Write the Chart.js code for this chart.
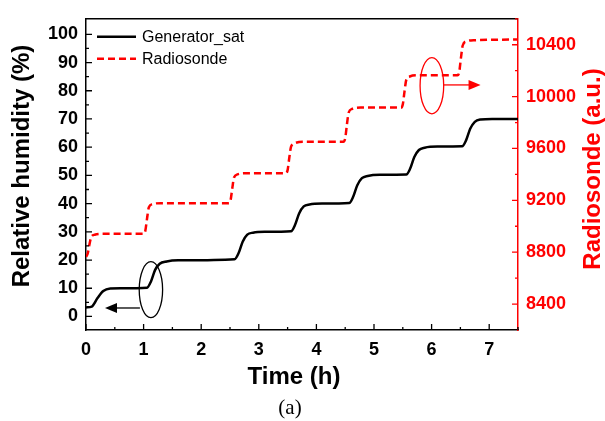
<!DOCTYPE html>
<html>
<head>
<meta charset="utf-8">
<script src="https://cdn.jsdelivr.net/npm/chart.js@4.4.1/dist/chart.umd.min.js"></script>
<style>
  html, body { margin: 0; padding: 0; background: #fff; }
  #wrap { width: 605px; height: 421px; position: relative; }
</style>
</head>
<body>
<div id="wrap"><canvas id="chart"></canvas></div>
<script>
// Generator_sat (left axis, %)
const genTime = [0, 0.1, 0.2, 0.3, 0.42, 0.6, 1.06, 1.13, 1.2, 1.28, 1.4, 1.6,
  2.58, 2.65, 2.72, 2.8, 2.9, 3.1, 3.56, 3.63, 3.7, 3.78, 3.88, 4.1,
  4.57, 4.64, 4.71, 4.79, 4.89, 5.1, 5.56, 5.63, 5.7, 5.78, 5.88, 6.1,
  6.53, 6.6, 6.67, 6.75, 6.85, 7.05, 7.5];
const genRH = [3.2, 3.5, 6.5, 9.0, 9.9, 10.0, 10.2, 12.5, 16.5, 18.7, 19.5, 19.9,
  20.3, 22.5, 26.5, 29.0, 29.7, 30.0, 30.2, 32.5, 36.5, 39.0, 39.7, 40.0,
  40.2, 42.5, 46.5, 49.0, 49.8, 50.2, 50.3, 52.5, 56.5, 59.0, 59.8, 60.2,
  60.3, 62.5, 66.5, 69.0, 69.8, 70.0, 70.0];

// Radiosonde (right axis, a.u.)
const radioTime = [0, 0.03, 0.06, 0.09, 0.15, 0.3, 1.0, 1.03, 1.06, 1.09, 1.15, 1.3,
  2.48, 2.51, 2.54, 2.57, 2.63, 2.78, 3.47, 3.5, 3.53, 3.56, 3.62, 3.77,
  4.47, 4.5, 4.53, 4.56, 4.62, 4.77, 5.47, 5.5, 5.53, 5.56, 5.62, 5.77,
  6.45, 6.48, 6.51, 6.54, 6.6, 6.75, 7.5];
const radioVal = [8764, 8790, 8860, 8915, 8935, 8942, 8942, 8966, 9060, 9145, 9170, 9178,
  9178, 9201, 9294, 9376, 9400, 9409, 9409, 9433, 9530, 9614, 9640, 9652,
  9652, 9678, 9785, 9877, 9905, 9915, 9915, 9940, 10040, 10128, 10155, 10164,
  10164, 10191, 10300, 10394, 10425, 10435, 10440];

const timeTicks = [0, 1, 2, 3, 4, 5, 6, 7];
const rhTicks = [0, 10, 20, 30, 40, 50, 60, 70, 80, 90, 100];
const radioTicks = [8400, 8800, 9200, 9600, 10000, 10400];

const FONT = '"Liberation Sans", Arial, Helvetica, sans-serif';
const RED = '#ff0000';

const toPoints = (xs, ys) => xs.map((x, i) => ({ x, y: ys[i] }));
const fixTicks = (vals) => (scale) => { scale.ticks = vals.map(v => ({ value: v })); };
const plain = (v) => String(v);

// ellipses + arrows pointing to the matching axis (data units)
const marks = [
  { axis: 'y', cx: 1.127, cy: 9.5, rx: 0.203, ry: 9.9, from: [0.936, 3.0], to: [0.33, 3.0], color: '#000' },
  { axis: 'y1', cx: 6.005, cy: 10084, rx: 0.205, ry: 217, from: [6.21, 10090], to: [6.85, 10090], color: RED }
];

const decor = {
  id: 'decor',
  afterDraw(chart) {
    const { ctx, chartArea: a, scales } = chart;
    const sx = scales.x, sy = scales.y, sr = scales.y1;
    ctx.save();

    // top frame
    ctx.strokeStyle = '#000';
    ctx.lineWidth = 1.5;
    ctx.beginPath();
    ctx.moveTo(a.left, a.top);
    ctx.lineTo(a.right, a.top);
    ctx.stroke();

    // inward tick marks
    ctx.lineWidth = 1.3;
    ctx.beginPath();
    for (let v = 0; v <= 7.5; v += 0.5) {
      const px = sx.getPixelForValue(v);
      const len = Number.isInteger(v) ? 6 : 3;
      ctx.moveTo(px, a.bottom);
      ctx.lineTo(px, a.bottom - len);
    }
    for (let v = 0; v <= 100; v += 5) {
      const py = sy.getPixelForValue(v);
      const len = v % 10 === 0 ? 6 : 3;
      ctx.moveTo(a.left, py);
      ctx.lineTo(a.left + len, py);
    }
    ctx.stroke();
    ctx.strokeStyle = RED;
    ctx.beginPath();
    for (let v = 8400; v <= 10600; v += 200) {
      const py = sr.getPixelForValue(v);
      const len = v % 400 === 0 ? 6 : 3;
      ctx.moveTo(a.right, py);
      ctx.lineTo(a.right - len, py);
    }
    ctx.stroke();

    // ellipses and arrows
    marks.forEach(m => {
      const ys = scales[m.axis];
      const cx = sx.getPixelForValue(m.cx), cy = ys.getPixelForValue(m.cy);
      const rx = Math.abs(sx.getPixelForValue(m.cx + m.rx) - cx);
      const ry = Math.abs(ys.getPixelForValue(m.cy + m.ry) - cy);
      ctx.strokeStyle = m.color;
      ctx.fillStyle = m.color;
      ctx.lineWidth = 1.3;
      ctx.setLineDash([]);
      ctx.beginPath();
      ctx.ellipse(cx, cy, rx, ry, 0, 0, Math.PI * 2);
      ctx.stroke();
      const x0 = sx.getPixelForValue(m.from[0]), y0 = ys.getPixelForValue(m.from[1]);
      const x1 = sx.getPixelForValue(m.to[0]), y1 = ys.getPixelForValue(m.to[1]);
      const dir = Math.sign(x1 - x0);
      ctx.beginPath();
      ctx.moveTo(x0, y0);
      ctx.lineTo(x1 - dir * 10, y1);
      ctx.stroke();
      ctx.beginPath();
      ctx.moveTo(x1, y1);
      ctx.lineTo(x1 - dir * 12, y1 - 5);
      ctx.lineTo(x1 - dir * 12, y1 + 5);
      ctx.closePath();
      ctx.fill();
    });

    // legend
    ctx.font = '16px ' + FONT;
    ctx.textBaseline = 'middle';
    ctx.textAlign = 'left';
    chart.data.datasets.forEach((ds, i) => {
      const y = a.top + 18 + i * 22;
      ctx.strokeStyle = ds.borderColor;
      ctx.lineWidth = ds.borderWidth;
      ctx.setLineDash(ds.borderDash || []);
      ctx.beginPath();
      ctx.moveTo(a.left + 11, y);
      ctx.lineTo(a.left + 50, y);
      ctx.stroke();
      ctx.setLineDash([]);
      ctx.fillStyle = '#000';
      ctx.fillText(ds.label, a.left + 56, y + 1);
    });

    // axis titles
    ctx.font = 'bold 24px ' + FONT;
    ctx.textAlign = 'center';
    ctx.fillStyle = '#000';
    ctx.fillText('Time (h)', 294, 377);
    ctx.save();
    ctx.translate(22, 166);
    ctx.rotate(-Math.PI / 2);
    ctx.fillText('Relative humidity (%)', 0, 0);
    ctx.restore();
    ctx.save();
    ctx.fillStyle = RED;
    ctx.translate(593, 169);
    ctx.rotate(-Math.PI / 2);
    ctx.fillText('Radiosonde (a.u.)', 0, 0);
    ctx.restore();

    // caption
    ctx.font = '21px "Liberation Serif", "Times New Roman", serif';
    ctx.fillStyle = '#000';
    ctx.fillText('(a)', 290, 408);
    ctx.restore();
  }
};

new Chart(document.getElementById('chart'), {
  type: 'line',
  data: {
    datasets: [
      { label: 'Generator_sat', data: toPoints(genTime, genRH), yAxisID: 'y',
        borderColor: '#000', borderWidth: 2.5, pointRadius: 0, cubicInterpolationMode: 'monotone', fill: false },
      { label: 'Radiosonde', data: toPoints(radioTime, radioVal), yAxisID: 'y1',
        borderColor: RED, borderWidth: 2.5, borderDash: [7, 4], pointRadius: 0, cubicInterpolationMode: 'monotone', fill: false }
    ]
  },
  options: {
    responsive: true,
    maintainAspectRatio: false,
    animation: false,
    layout: { padding: { top: 8, left: 0, right: 0, bottom: 0 } },
    plugins: { legend: { display: false }, tooltip: { enabled: false } },
    scales: {
      x: {
        type: 'linear', min: 0, max: 7.5,
        afterBuildTicks: fixTicks(timeTicks),
        afterFit: (s) => { s.height = 91; },
        grid: { display: false, drawTicks: false },
        border: { display: true, color: '#000', width: 1.5 },
        ticks: { color: '#000', padding: 9, maxRotation: 0, callback: plain, font: { family: FONT, size: 18, weight: 'bold' } }
      },
      y: {
        position: 'left', min: -4.8, max: 105.5,
        afterBuildTicks: fixTicks(rhTicks),
        afterFit: (s) => { s.width = 86; },
        grid: { display: false, drawTicks: false },
        border: { display: true, color: '#000', width: 1.5 },
        ticks: { color: '#000', padding: 8, callback: plain, font: { family: FONT, size: 18, weight: 'bold' } }
      },
      y1: {
        position: 'right', min: 8200, max: 10600,
        afterBuildTicks: fixTicks(radioTicks),
        afterFit: (s) => { s.width = 87; },
        grid: { display: false, drawTicks: false },
        border: { display: true, color: RED, width: 1.5 },
        ticks: { color: RED, padding: 8, callback: plain, font: { family: FONT, size: 18, weight: 'bold' } }
      }
    }
  },
  plugins: [decor]
});
</script>
</body>
</html>
